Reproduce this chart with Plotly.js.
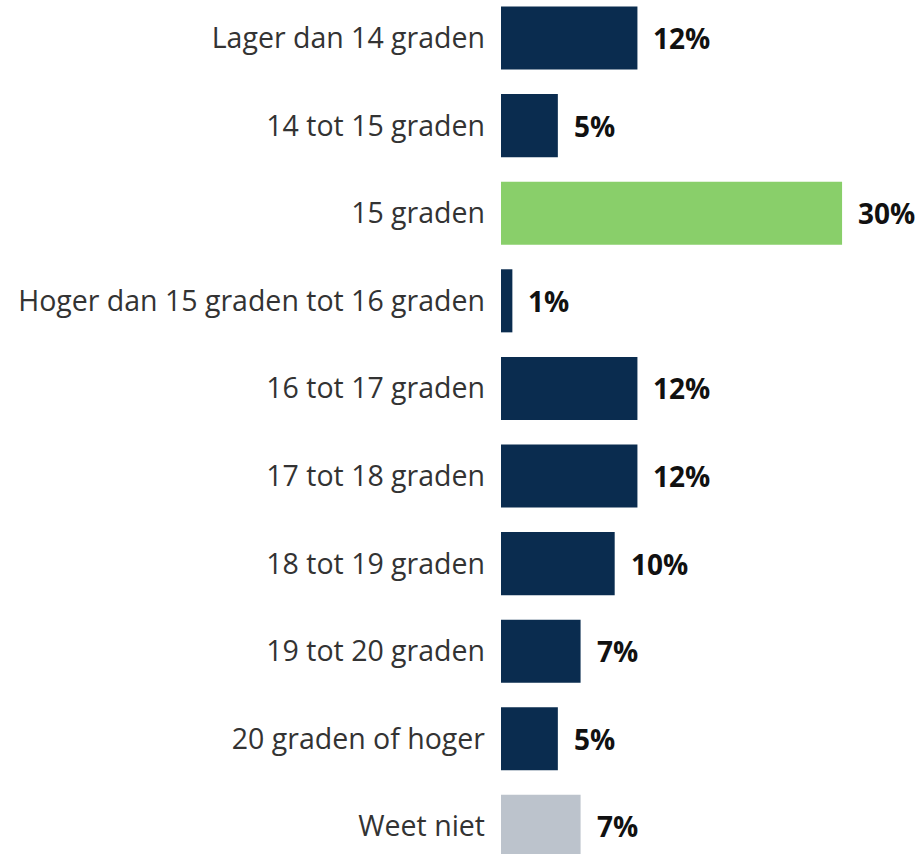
<!DOCTYPE html>
<html>
<head>
<meta charset="utf-8">
<script src="https://cdn.plot.ly/plotly-3.0.1.min.js"></script>
<style>html,body{margin:0;padding:0;background:#fff;}#chart{width:922px;height:854px;}</style>
</head>
<body>
<div id="chart"></div>
<script>
const categories = [
  "Lager dan 14 graden",
  "14 tot 15 graden",
  "15 graden",
  "Hoger dan 15 graden tot 16 graden",
  "16 tot 17 graden",
  "17 tot 18 graden",
  "18 tot 19 graden",
  "19 tot 20 graden",
  "20 graden of hoger",
  "Weet niet"
];
const values = [12, 5, 30, 1, 12, 12, 10, 7, 5, 7];
const valueLabels = ["12%", "5%", "30%", "1%", "12%", "12%", "10%", "7%", "5%", "7%"];
const barColors = ["#0a2c4f", "#0a2c4f", "#89cf6a", "#0a2c4f", "#0a2c4f", "#0a2c4f", "#0a2c4f", "#0a2c4f", "#0a2c4f", "#bcc3cc"];

const trace = {
  type: "bar",
  orientation: "h",
  x: values,
  y: categories,
  marker: {color: barColors},
  width: 0.72,
  hoverinfo: "none"
};

const annotations = values.map((v, i) => ({
  x: v, y: categories[i], xref: "x", yref: "y",
  text: "<b>" + valueLabels[i] + "</b>",
  showarrow: false, xanchor: "left", yanchor: "middle", xshift: 14,
  font: {family: "Open Sans, Noto Sans, sans-serif", size: 28, color: "#111111"}
}));

const layout = {
  width: 922, height: 854,
  margin: {l: 501, r: 0, t: 0, b: 0},
  paper_bgcolor: "#ffffff", plot_bgcolor: "#ffffff",
  showlegend: false,
  xaxis: {range: [0, 37.03], showgrid: false, zeroline: false, showticklabels: false, showline: false, fixedrange: true},
  yaxis: {
    type: "category", categoryorder: "array", categoryarray: categories,
    range: [9.315, -0.434],
    showgrid: false, zeroline: false, showline: false,
    ticks: "", ticklabelstandoff: 15,
    tickfont: {family: "Open Sans, Noto Sans, sans-serif", size: 28.5, color: "#333333"}
  },
  annotations: annotations
};

Plotly.newPlot("chart", [trace], layout, {displayModeBar: false, staticPlot: true});
</script>
</body>
</html>
